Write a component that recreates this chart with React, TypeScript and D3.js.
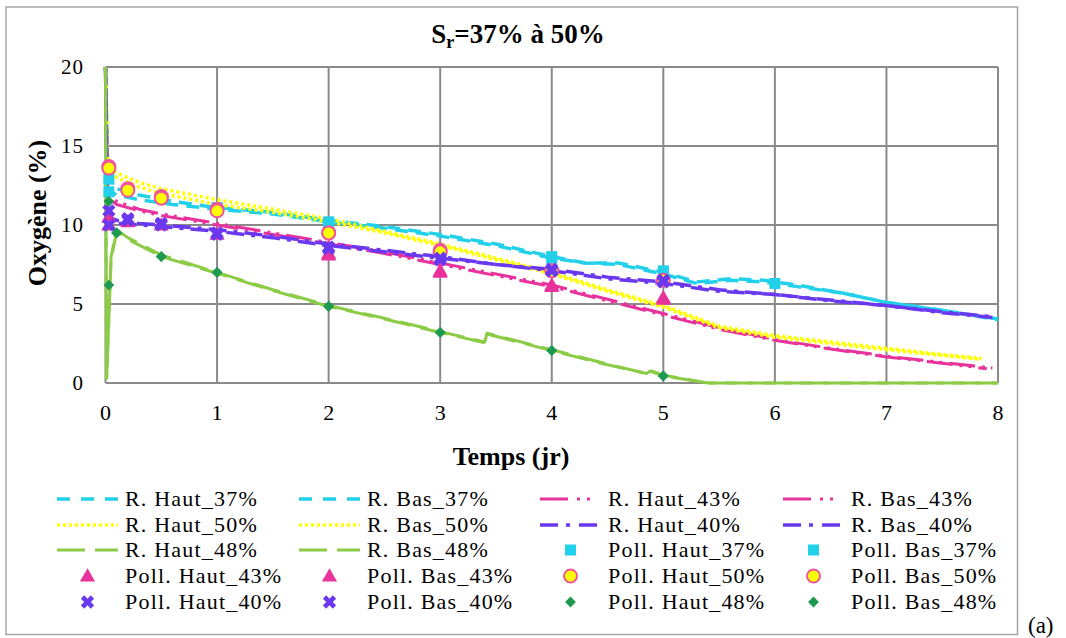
import React from 'react';
import * as d3 from 'd3';

// ---------- data ----------
const xTickValues = [0, 1, 2, 3, 4, 5, 6, 7, 8];
const yTickValues = [0, 5, 10, 15, 20];

// R. lines (model)
const tHaut37 = [0, 0.02, 0.1, 0.3, 0.6, 1, 1.5, 2, 2.5, 3, 3.5, 4, 4.3, 4.6, 5, 5.3, 5.6, 5.9, 6.2, 6.6, 7, 7.5, 8];
const vHaut37 = [20, 12.9, 12.3, 11.9, 11.5, 11.1, 10.8, 10.3, 9.9, 9.4, 8.8, 8.0, 7.6, 7.6, 7.0, 6.4, 6.6, 6.5, 6.2, 5.7, 5.1, 4.6, 4.05];
const tBas37 = [0, 0.02, 0.1, 0.3, 0.6, 1, 1.5, 2, 2.5, 3, 3.5, 4, 4.3, 4.6, 5, 5.3, 5.6, 5.9, 6.2, 6.6, 7, 7.5, 8];
const vBas37 = [20, 12.2, 11.9, 11.6, 11.3, 11.0, 10.7, 10.2, 9.8, 9.3, 8.7, 7.9, 7.6, 7.5, 6.9, 6.3, 6.5, 6.4, 6.1, 5.7, 5.1, 4.6, 4.0];

const tHaut43 = [0, 0.02, 0.1, 0.3, 0.5, 1, 1.5, 2, 2.5, 3, 3.5, 4, 4.5, 5, 5.5, 6, 6.5, 7, 7.5, 7.95];
const vHaut43 = [20, 11.9, 11.5, 11.0, 10.7, 10.1, 9.5, 8.9, 8.3, 7.6, 6.9, 6.2, 5.3, 4.4, 3.5, 2.75, 2.2, 1.7, 1.3, 0.95];
const tBas43 = [0, 0.02, 0.1, 0.3, 0.5, 1, 1.5, 2, 2.5, 3, 3.5, 4, 4.5, 5, 5.5, 6, 6.5, 7, 7.5, 7.9];
const vBas43 = [20, 11.7, 11.3, 10.9, 10.6, 10.0, 9.4, 8.8, 8.2, 7.5, 6.8, 6.1, 5.2, 4.3, 3.4, 2.7, 2.15, 1.65, 1.25, 0.9];

const tHaut50 = [0, 0.02, 0.1, 0.3, 0.5, 1, 1.5, 2, 2.5, 3, 3.5, 4, 4.5, 5, 5.5, 6, 6.5, 7, 7.5, 7.85];
const vHaut50 = [20, 13.6, 13.3, 12.7, 12.3, 11.6, 11.0, 10.4, 9.6, 8.8, 7.9, 7.0, 5.9, 4.9, 3.6, 3.0, 2.6, 2.2, 1.8, 1.55];
const tBas50 = [0, 0.02, 0.1, 0.3, 0.5, 1, 1.5, 2, 2.5, 3, 3.5, 4, 4.5, 5, 5.5, 6, 6.5, 7, 7.5, 7.85];
const vBas50 = [20, 13.3, 13.0, 12.4, 12.0, 11.3, 10.8, 10.2, 9.5, 8.7, 7.8, 6.9, 5.8, 4.8, 3.5, 2.9, 2.5, 2.1, 1.75, 1.5];

const tHaut40 = [0, 0.02, 0.1, 0.3, 0.5, 1, 1.5, 2, 2.5, 3, 3.5, 4, 4.5, 5, 5.5, 6, 6.5, 7, 7.5, 7.95];
const vHaut40 = [20, 10.5, 10.3, 10.1, 10.0, 9.7, 9.3, 8.8, 8.4, 8.0, 7.5, 7.2, 6.7, 6.4, 5.9, 5.6, 5.25, 4.9, 4.5, 4.2];
const tBas40 = [0, 0.02, 0.1, 0.3, 0.5, 1, 1.5, 2, 2.5, 3, 3.5, 4, 4.5, 5, 5.5, 6, 6.5, 7, 7.5, 7.95];
const vBas40 = [20, 10.2, 10.1, 10.0, 9.9, 9.6, 9.2, 8.7, 8.3, 7.9, 7.5, 7.1, 6.6, 6.3, 5.8, 5.6, 5.2, 4.9, 4.45, 4.15];

const tHaut48 = [0, 0.01, 0.05, 0.1, 0.2, 0.5, 1, 1.5, 2, 2.5, 3, 3.4, 3.42, 4, 4.5, 4.85, 4.88, 5, 5.4, 8];
const vHaut48 = [20, 0.3, 8.0, 9.7, 9.2, 8.1, 7.0, 5.9, 4.9, 4.1, 3.25, 2.6, 3.15, 2.1, 1.2, 0.6, 0.8, 0.5, 0, 0];
const tBas48 = [0, 0.01, 0.05, 0.1, 0.2, 0.5, 1, 1.5, 2, 2.5, 3, 3.4, 3.42, 4, 4.5, 4.85, 4.88, 5, 5.4, 8];
const vBas48 = [20, 0.3, 7.8, 9.6, 9.1, 8.0, 6.95, 5.85, 4.85, 4.05, 3.2, 2.55, 3.1, 2.05, 1.15, 0.6, 0.75, 0.45, 0, 0];

// Poll. points (measurements)
const tPHaut37 = [0.03, 1, 2, 4, 5, 6];
const vPHaut37 = [12.9, 11.1, 10.2, 8.0, 7.1, 6.3];
const tPBas37 = [0.03, 1, 2, 4, 5];
const vPBas37 = [12.1, 11.0, 10.1, 7.9, 7.0];

const tPHaut43 = [0.03, 0.2, 0.5, 1, 2, 3, 4, 5];
const vPHaut43 = [10.5, 10.2, 10.0, 9.4, 8.1, 7.0, 6.1, 5.3];
const tPBas43 = [0.03, 2, 3, 4, 5];
const vPBas43 = [10.0, 8.2, 7.1, 6.2, 5.4];

const tPHaut50 = [0.03, 0.2, 0.5, 1, 2, 3, 4, 5];
const vPHaut50 = [13.7, 12.3, 11.8, 11.0, 9.5, 8.4, 7.1, 6.5];
const tPBas50 = [0.03, 0.2, 0.5, 1, 2, 3];
const vPBas50 = [13.6, 12.2, 11.7, 10.9, 9.5, 8.3];

const tPHaut40 = [0.03, 0.2, 0.5, 1, 2, 3, 4, 5];
const vPHaut40 = [10.9, 10.3, 10.1, 9.5, 8.6, 7.9, 7.2, 6.5];
const tPBas40 = [0.03, 0.2, 0.5, 1, 2, 3, 4, 5];
const vPBas40 = [10.0, 10.4, 10.0, 9.4, 8.5, 7.8, 7.1, 6.4];

const tPHaut48 = [0.03, 0.1, 0.5, 1, 2, 3, 4, 5];
const vPHaut48 = [11.5, 9.5, 8.0, 7.0, 4.85, 3.2, 2.05, 0.45];
const tPBas48 = [0.03, 0.1, 0.5, 1, 2, 3, 4, 5];
const vPBas48 = [6.2, 9.5, 8.0, 7.0, 4.85, 3.2, 2.05, 0.45];

// ---------- styles ----------
const CYAN = '#22D0EA';
const YELLOW = '#FFFF00';
const GREEN = '#8CCB46';
const DKGREEN = '#1E9A50';
const MAGENTA = '#E8329C';
const PURPLE = '#6A38EE';
const CIRCLE_STROKE = '#F0549C';
const GRID = '#8A8A8A';
const SERIF = "'Liberation Serif'";

type LineS = { kind: 'line'; name: string; t: number[]; v: number[]; color: string; dash: string; legendDash: string; width: number; offset?: number };
type MarkS = { kind: 'mark'; name: string; t: number[]; v: number[]; shape: string };
type S = LineS | MarkS;

const series: S[] = [
  { kind: 'line', name: 'R. Haut_37%', t: tHaut37, v: vHaut37, color: CYAN, dash: '13,8', legendDash: '13,11', width: 3.5 },
  { kind: 'line', name: 'R. Bas_37%', t: tBas37, v: vBas37, color: CYAN, dash: '13,8', legendDash: '13,11', width: 3.5, offset: 6 },
  { kind: 'line', name: 'R. Haut_43%', t: tHaut43, v: vHaut43, color: MAGENTA, dash: '26,7,3,6,3,7', legendDash: '28,9,3,7,3,20', width: 3 },
  { kind: 'line', name: 'R. Bas_43%', t: tBas43, v: vBas43, color: MAGENTA, dash: '26,7,3,6,3,7', legendDash: '28,9,3,7,3,20', width: 3, offset: 20 },
  { kind: 'line', name: 'R. Haut_50%', t: tHaut50, v: vHaut50, color: YELLOW, dash: '3,3', legendDash: '3,3', width: 3.5 },
  { kind: 'line', name: 'R. Bas_50%', t: tBas50, v: vBas50, color: YELLOW, dash: '3,3', legendDash: '3,3', width: 3.5 },
  { kind: 'line', name: 'R. Haut_40%', t: tHaut40, v: vHaut40, color: PURPLE, dash: '18,7,4,7', legendDash: '18,8,4,9', width: 3.5 },
  { kind: 'line', name: 'R. Bas_40%', t: tBas40, v: vBas40, color: PURPLE, dash: '18,7,4,7', legendDash: '18,8,4,9', width: 3.5, offset: 14 },
  { kind: 'line', name: 'R. Haut_48%', t: tHaut48, v: vHaut48, color: GREEN, dash: '28,10', legendDash: '28,10', width: 3 },
  { kind: 'line', name: 'R. Bas_48%', t: tBas48, v: vBas48, color: GREEN, dash: '28,10', legendDash: '28,10', width: 3, offset: 19 },
  { kind: 'mark', name: 'Poll. Haut_37%', t: tPHaut37, v: vPHaut37, shape: 'square' },
  { kind: 'mark', name: 'Poll. Bas_37%', t: tPBas37, v: vPBas37, shape: 'square' },
  { kind: 'mark', name: 'Poll. Haut_43%', t: tPHaut43, v: vPHaut43, shape: 'triangle' },
  { kind: 'mark', name: 'Poll. Bas_43%', t: tPBas43, v: vPBas43, shape: 'triangle' },
  { kind: 'mark', name: 'Poll. Haut_50%', t: tPHaut50, v: vPHaut50, shape: 'circle' },
  { kind: 'mark', name: 'Poll. Bas_50%', t: tPBas50, v: vPBas50, shape: 'circle' },
  { kind: 'mark', name: 'Poll. Haut_40%', t: tPHaut40, v: vPHaut40, shape: 'x' },
  { kind: 'mark', name: 'Poll. Bas_40%', t: tPBas40, v: vPBas40, shape: 'x' },
  { kind: 'mark', name: 'Poll. Haut_48%', t: tPHaut48, v: vPHaut48, shape: 'diamond' },
  { kind: 'mark', name: 'Poll. Bas_48%', t: tPBas48, v: vPBas48, shape: 'diamond' },
];

function Marker({ shape, cx, cy }: { shape: string; cx: number; cy: number }) {
  if (shape === 'square') {
    return <rect x={cx - 5.5} y={cy - 5.5} width={11} height={11} fill={CYAN} />;
  }
  if (shape === 'circle') {
    return <circle cx={cx} cy={cy} r={6.5} fill={YELLOW} stroke={CIRCLE_STROKE} strokeWidth={2} />;
  }
  if (shape === 'triangle') {
    const p = d3.symbol().type(d3.symbolTriangle).size(100)();
    return <path d={p || ''} transform={`translate(${cx},${cy + 1})`} fill={MAGENTA} />;
  }
  if (shape === 'x') {
    const p = d3.symbol().type(d3.symbolCross).size(110)();
    return <path d={p || ''} transform={`translate(${cx},${cy}) rotate(45)`} fill={PURPLE} />;
  }
  const p = d3.symbol().type(d3.symbolSquare).size(58)();
  return <path d={p || ''} transform={`translate(${cx},${cy}) rotate(45)`} fill={DKGREEN} />;
}

export default function App() {
  const x = d3.scaleLinear().domain([0, 8]).range([105.5, 998]);
  const y = d3.scaleLinear().domain([0, 20]).range([383, 67]);
  const line = d3.line<[number, number]>().x(d => x(d[0])).y(d => y(d[1]));

  const legendCols = [125, 367, 608, 851];
  const legendRows = [506, 532, 557, 583, 609];
  const tf = { fontFamily: SERIF };

  return (
    <svg width={1066} height={638} style={{ position: 'absolute', left: 0, top: 0, background: '#fff' }}>
      <rect x={0} y={0} width={1066} height={638} fill="#fff" />
      <rect x={6} y={7} width={1011.5} height={627.5} fill="none" stroke="#A6A6A6" strokeWidth={1.5} />

      {/* title */}
      <text x={518} y={43} textAnchor="middle" fontSize={27} fontWeight="bold" fill="#000" style={tf}>
        S<tspan fontSize={18} dy={5}>r</tspan><tspan dy={-5}>=37% à 50%</tspan>
      </text>

      {/* grid */}
      {xTickValues.map(t => (
        <line key={'gx' + t} x1={x(t)} x2={x(t)} y1={y(0)} y2={y(20)} stroke={GRID} strokeWidth={2} />
      ))}
      {yTickValues.map(v => (
        <line key={'gy' + v} x1={x(0)} x2={x(8)} y1={y(v)} y2={y(v)} stroke={GRID} strokeWidth={2} />
      ))}

      {/* tick labels */}
      {yTickValues.map(v => (
        <text key={'ty' + v} x={84} y={y(v)} dy="0.35em" textAnchor="end" fontSize={21} letterSpacing={1} fill="#000" style={tf}>{v}</text>
      ))}
      {xTickValues.map(t => (
        <text key={'tx' + t} x={x(t)} y={420} textAnchor="middle" fontSize={22} fill="#000" style={tf}>{t}</text>
      ))}

      {/* axis titles */}
      <text x={511} y={465} textAnchor="middle" fontSize={26} fontWeight="bold" fill="#000" style={tf}>Temps (jr)</text>
      <text transform={`translate(46,213) rotate(-90)`} textAnchor="middle" fontSize={26} fontWeight="bold" fill="#000" style={tf}>Oxygène (%)</text>

      {/* series */}
      {series.map((s, i) => {
        const pts: [number, number][] = s.t.map((t, j) => [t, s.v[j]]);
        if (s.kind === 'line') {
          return (
            <path key={'s' + i} d={line(pts) || ''} fill="none" stroke={s.color} strokeWidth={s.width}
              strokeDasharray={s.dash} strokeDashoffset={s.offset || 0} strokeLinejoin="round" />
          );
        }
        return (
          <g key={'s' + i}>
            {pts.map((p, j) => <Marker key={j} shape={s.shape} cx={x(p[0])} cy={y(p[1])} />)}
          </g>
        );
      })}

      {/* legend */}
      {series.map((s, i) => {
        const col = i % 4;
        const row = Math.floor(i / 4);
        const tx = legendCols[col];
        const ty = legendRows[row];
        const cy = ty - 7;
        const x1 = tx - 68, x2 = tx - 7;
        return (
          <g key={'lg' + i}>
            {s.kind === 'line' ? (
              <line x1={x1} x2={x2} y1={cy} y2={cy} stroke={s.color} strokeWidth={s.width} strokeDasharray={s.legendDash} />
            ) : (
              <Marker shape={s.shape} cx={(x1 + x2) / 2} cy={cy} />
            )}
            <text x={tx} y={ty} fontSize={22} letterSpacing={1.2} fill="#000" style={tf}>{s.name}</text>
          </g>
        );
      })}

      <text x={1028} y={633} fontSize={23} fill="#000" style={tf}>(a)</text>
    </svg>
  );
}
